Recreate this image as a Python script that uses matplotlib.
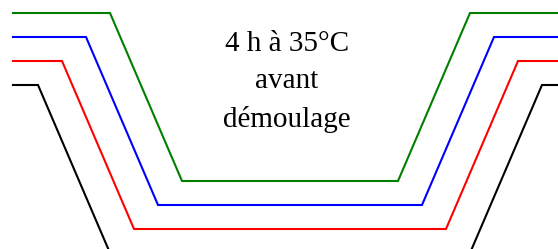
import matplotlib
matplotlib.use("Agg")
import matplotlib.pyplot as plt

# profils (en pixels de l'image, y vers le bas)
vert_x = [13, 110, 182, 398, 470, 558]
vert_y = [13, 13, 181, 181, 13, 13]
bleu_x = [13, 86, 158, 422, 494, 558]
bleu_y = [37, 37, 205, 205, 37, 37]
rouge_x = [13, 62, 134, 446, 518, 558]
rouge_y = [61, 61, 229, 229, 61, 61]
noir_x = [13, 38, 110, 470, 542, 558]
noir_y = [85, 85, 253, 253, 85, 85]

lignes_texte = ["4 h à 35°C", "avant", "démoulage"]
bases_texte = [51, 88, 127]

fig = plt.figure(figsize=(5.58, 2.49), dpi=100)
ax = fig.add_axes([0, 0, 1, 1])

ax.plot(vert_x, vert_y, color="#008000", lw=1.5, solid_joinstyle="miter")
ax.plot(bleu_x, bleu_y, color="#0000ff", lw=1.5, solid_joinstyle="miter")
ax.plot(rouge_x, rouge_y, color="#ff0000", lw=1.5, solid_joinstyle="miter")
ax.plot(noir_x, noir_y, color="#000000", lw=1.5, solid_joinstyle="miter")

for txt, yb in zip(lignes_texte, bases_texte):
    ax.text(287, yb, txt, ha="center", va="baseline",
            family=["Liberation Serif", "DejaVu Serif"], fontsize=21)

ax.set_xlim(0, 558)
ax.set_ylim(249, 0)
ax.axis("off")

fig.savefig("out.png", dpi=100)
